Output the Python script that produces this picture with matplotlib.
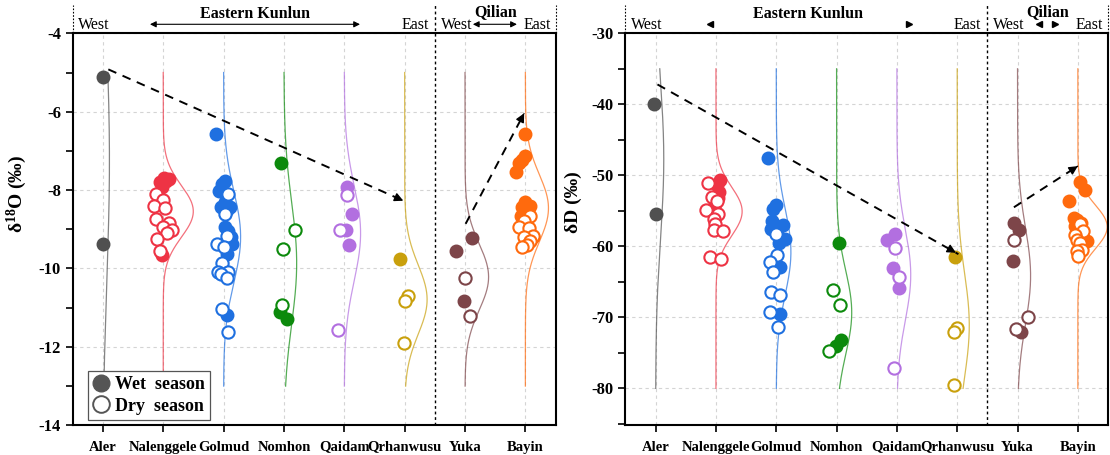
import numpy as np
import matplotlib
matplotlib.use("Agg")
import matplotlib.pyplot as plt
from matplotlib.ticker import MultipleLocator
from matplotlib.lines import Line2D

sites = ["Aler", "Nalenggele", "Golmud", "Nomhon", "Qaidam", "Qrhanwusu", "Yuka", "Bayin"]
colors = ["#505050", "#EE3344", "#1F70E0", "#0C8A0C", "#B26FE0", "#C9A00C", "#7D4549", "#FF6A0D"]

# delta 18O, per site (wet = filled, dry = open)
o18_wet = [
    [-5.11, -9.37],
    [-7.68, -7.72, -7.80, -7.76, -7.92, -9.66],
    [-6.58, -7.76, -7.85, -8.02, -8.30, -8.44, -8.44, -8.50, -8.94, -9.05, -9.20, -9.37, -9.62, -11.18],
    [-7.32, -11.10, -11.30],
    [-7.92, -8.61, -9.03, -9.41],
    [-9.75],
    [-9.22, -9.56, -10.83],
    [-6.58, -7.13, -7.22, -7.30, -7.55, -8.31, -8.40, -8.44, -8.55, -8.65, -9.20],
]
o18_dry = [
    [],
    [-8.10, -8.25, -8.41, -8.46, -8.73, -8.84, -8.94, -9.03, -9.10, -9.26, -9.56],
    [-8.10, -8.61, -9.16, -9.37, -9.46, -9.87, -10.08, -10.08, -10.15, -10.25, -11.03, -11.62],
    [-9.03, -9.49, -10.94],
    [-8.13, -9.01, -11.58],
    [-10.70, -10.82, -11.90],
    [-10.25, -11.22],
    [-8.65, -8.80, -8.94, -8.97, -9.16, -9.20, -9.30, -9.41, -9.45],
]
# horizontal jitter (category units)
o18_wet_dx = [
    [0.0, 0.0],
    [0.02, 0.10, -0.05, 0.05, -0.02, -0.02],
    [-0.12, 0.03, -0.03, -0.08, 0.02, 0.10, -0.05, 0.05, 0.03, 0.08, 0.12, 0.14, 0.06, 0.06],
    [-0.05, -0.07, 0.05],
    [0.04, 0.12, 0.03, 0.07],
    [-0.07],
    [0.12, -0.15, -0.01],
    [0.0, 0.0, -0.05, -0.10, -0.15, 0.0, 0.08, -0.05, 0.05, -0.08, 0.12],
]
o18_dry_dx = [
    [],
    [-0.12, 0.0, -0.15, 0.03, -0.12, 0.10, 0.0, 0.14, 0.06, -0.10, -0.05],
    [0.07, 0.03, 0.05, -0.11, 0.0, -0.03, -0.10, 0.08, -0.05, 0.06, -0.03, 0.08],
    [0.18, -0.02, -0.04],
    [0.05, -0.07, -0.10],
    [0.05, 0.0, -0.01],
    [0.0, 0.08],
    [0.08, -0.02, -0.11, 0.06, 0.12, -0.02, 0.08, 0.03, -0.05],
]

# delta D
dD_wet = [
    [-40.0, -55.5],
    [-50.6, -51.4, -52.3, -53.2, -54.0],
    [-47.5, -54.2, -54.8, -56.5, -57.0, -57.3, -57.5, -58.9, -59.5, -62.9, -69.5],
    [-59.6, -73.2, -74.0],
    [-58.3, -59.1, -63.1, -65.8],
    [-61.5],
    [-56.7, -57.7, -62.0, -72.0],
    [-50.9, -52.0, -53.6, -56.0, -56.3, -56.7, -57.2, -59.3],
]
dD_dry = [
    [],
    [-51.1, -53.0, -53.6, -54.9, -55.4, -56.2, -56.8, -57.7, -57.8, -61.5, -61.8],
    [-58.2, -61.2, -62.2, -63.6, -66.4, -66.9, -69.3, -71.3],
    [-66.1, -68.2, -74.8],
    [-60.3, -64.3, -77.2],
    [-71.5, -72.0, -79.5],
    [-59.1, -69.9, -71.7],
    [-56.8, -57.8, -58.4, -59.1, -59.6, -60.5, -60.7, -61.3],
]
dD_wet_dx = [
    [-0.02, 0.0],
    [0.07, 0.01, 0.05, 0.04, -0.02],
    [-0.14, 0.0, -0.05, -0.07, 0.11, 0.05, -0.08, 0.14, 0.05, 0.06, 0.06],
    [0.04, 0.08, -0.01],
    [-0.03, -0.17, -0.06, 0.04],
    [-0.03],
    [-0.06, 0.03, -0.07, 0.06],
    [0.03, 0.12, -0.15, -0.07, -0.02, 0.06, -0.05, 0.15],
]
dD_dry_dx = [
    [],
    [-0.13, -0.07, 0.02, -0.17, 0.04, -0.03, -0.02, -0.04, 0.12, -0.10, 0.09],
    [0.0, 0.01, -0.11, -0.05, -0.08, 0.07, -0.10, 0.03],
    [-0.06, 0.06, -0.12],
    [-0.03, 0.04, -0.05],
    [0.0, -0.05, -0.06],
    [-0.06, 0.17, -0.02],
    [0.04, 0.08, -0.04, -0.02, 0.04, 0.07, -0.02, 0.0],
]

# trend arrows (start x, start y, end x, end y)
o18_arrows = [(1.09, -4.92, 6.02, -8.30), (7.01, -8.86, 7.98, -6.04)]
dD_arrows = [(1.03, -37.2, 6.02, -61.1), (6.94, -54.5, 8.0, -48.7)]

plt.rcParams["font.family"] = ["Liberation Serif", "DejaVu Serif"]
plt.rcParams["font.weight"] = "bold"
plt.rcParams["axes.unicode_minus"] = False
plt.rcParams["mathtext.fontset"] = "custom"
plt.rcParams["mathtext.bf"] = "Liberation Serif:bold"
plt.rcParams["mathtext.rm"] = "Liberation Serif:bold"
plt.rcParams["mathtext.default"] = "bf"

fig = plt.figure(figsize=(11.1, 4.55), dpi=100)
ax1 = fig.add_axes([0.0655, 0.0653, 0.435, 0.8615])
ax2 = fig.add_axes([0.5635, 0.0653, 0.4347, 0.8615])


def draw_panel(ax, wet, dry, wet_dx, dry_dx, curve_lo, curve_hi, k):
    yy = np.linspace(curve_hi, curve_lo, 400)
    for i in range(len(sites)):
        x0 = i + 1
        vals = np.array(wet[i] + dry[i])
        mu, sd = vals.mean(), vals.std(ddof=1)
        pdf = np.exp(-0.5 * ((yy - mu) / sd) ** 2) / (sd * np.sqrt(2 * np.pi))
        ax.plot(x0 + k * pdf, yy, color=colors[i], lw=0.9, alpha=0.7, zorder=2)
        ax.scatter(x0 + np.array(wet_dx[i]), wet[i], s=78, color=colors[i],
                   edgecolors=colors[i], linewidths=1.2, zorder=3)
        if dry[i]:
            ax.scatter(x0 + np.array(dry_dx[i]), dry[i], s=78, facecolors="white",
                       edgecolors=colors[i], linewidths=1.5, zorder=4)


def arrow(ax, x0, y0, x1, y1):
    ax.plot([x0, x1], [y0, y1], color="k", lw=1.4, dashes=(4.5, 3.5), zorder=5)
    ax.annotate("", xy=(x1, y1), xytext=(x1 - 0.04 * (x1 - x0), y1 - 0.04 * (y1 - y0)),
                arrowprops=dict(arrowstyle="-|>", color="k", lw=1, mutation_scale=13),
                zorder=6)


def header(ax, with_lines):
    tr = ax.get_xaxis_transform()
    kw = dict(transform=tr, clip_on=False, fontweight="normal", fontsize=11.5, va="baseline")
    ax.text(0.59, 1.012, "West", ha="left", **kw)
    ax.text(6.40, 1.012, "East", ha="right", **kw)
    ax.text(6.60, 1.012, "West", ha="left", **kw)
    ax.text(8.42, 1.012, "East", ha="right", **kw)
    ax.text(3.52, 1.040, "Eastern Kunlun", ha="center", va="baseline", transform=tr,
            clip_on=False, fontsize=11.5, fontweight="bold")
    ax.text(7.50, 1.043, "Qilian", ha="center", va="baseline", transform=tr,
            clip_on=False, fontsize=11.5, fontweight="bold")
    for x in (0.5, 8.5):
        ax.plot([x, x], [1.0, 1.072], transform=tr, clip_on=False, color="k",
                lw=0.8, ls=(0, (1.5, 1.5)))
    ax.plot([6.5, 6.5], [0.0, 1.072], transform=tr, clip_on=False, color="k",
            lw=1.0, ls=(0, (2, 2)), zorder=1)
    if with_lines:
        for xa, xb in ((1.78, 5.26), (7.13, 7.86)):
            ax.annotate("", xy=(xa, 1.023), xytext=(xb, 1.023), xycoords=tr, textcoords=tr,
                        arrowprops=dict(arrowstyle="<|-|>", color="k", lw=0.8,
                                        mutation_scale=9, shrinkA=0, shrinkB=0))
    else:
        for xa, xb in ((1.90, 5.20), (7.35, 7.62)):
            ax.plot([xa], [1.023], transform=tr, clip_on=False, marker="<", ms=5, color="k")
            ax.plot([xb], [1.023], transform=tr, clip_on=False, marker=">", ms=5, color="k")


def style(ax, ylim, major, minor, ylabel, label_y):
    ax.set_xlim(0.5, 8.5)
    ax.set_ylim(*ylim)
    ax.set_xticks(range(1, len(sites) + 1))
    ax.set_xticklabels(sites, fontsize=10.5, fontweight="bold")
    ax.yaxis.set_major_locator(MultipleLocator(major))
    ax.yaxis.set_minor_locator(MultipleLocator(minor))
    ax.tick_params(axis="both", which="both", direction="out", length=5, width=1.2)
    ax.tick_params(axis="y", labelsize=12)
    ax.tick_params(axis="x", pad=6)
    for lab in ax.get_yticklabels():
        lab.set_fontweight("bold")
    for sp in ax.spines.values():
        sp.set_linewidth(1.5)
    ax.grid(True, which="major", color="#d4d4d4", lw=0.8, ls=(0, (3, 3)), zorder=0)
    ax.set_axisbelow(True)
    ax.set_ylabel(ylabel, fontsize=14, fontweight="bold")
    ax.yaxis.set_label_coords(-0.09, label_y)


draw_panel(ax1, o18_wet, o18_dry, o18_wet_dx, o18_dry_dx, -13, -5, 0.82)
draw_panel(ax2, dD_wet, dD_dry, dD_wet_dx, dD_dry_dx, -80, -35, 3.7)
for a in o18_arrows:
    arrow(ax1, *a)
for a in dD_arrows:
    arrow(ax2, *a)

style(ax1, (-14, -4), 2, 1, "δ$^{18}$O (‰)", 0.59)
style(ax2, (-85.2, -30), 10, 5, "δD (‰)", 0.57)
header(ax1, True)
header(ax2, False)

handles = [
    Line2D([], [], marker="o", ls="none", ms=12, mfc="#555555", mec="#555555"),
    Line2D([], [], marker="o", ls="none", ms=12, mfc="white", mec="#555555", mew=1.4),
]
leg = ax1.legend(handles, ["Wet  season", "Dry  season"], loc="lower left",
                 bbox_to_anchor=(0.031, 0.013), borderaxespad=0, fancybox=False,
                 edgecolor="#555555", framealpha=1, handlelength=0.9, handletextpad=0.3,
                 labelspacing=0.25, borderpad=0.3,
                 prop=dict(family="Liberation Serif", weight="bold", size=13))
leg.get_frame().set_linewidth(0.9)
leg.set_zorder(10)

fig.savefig("out.png", dpi=100)
